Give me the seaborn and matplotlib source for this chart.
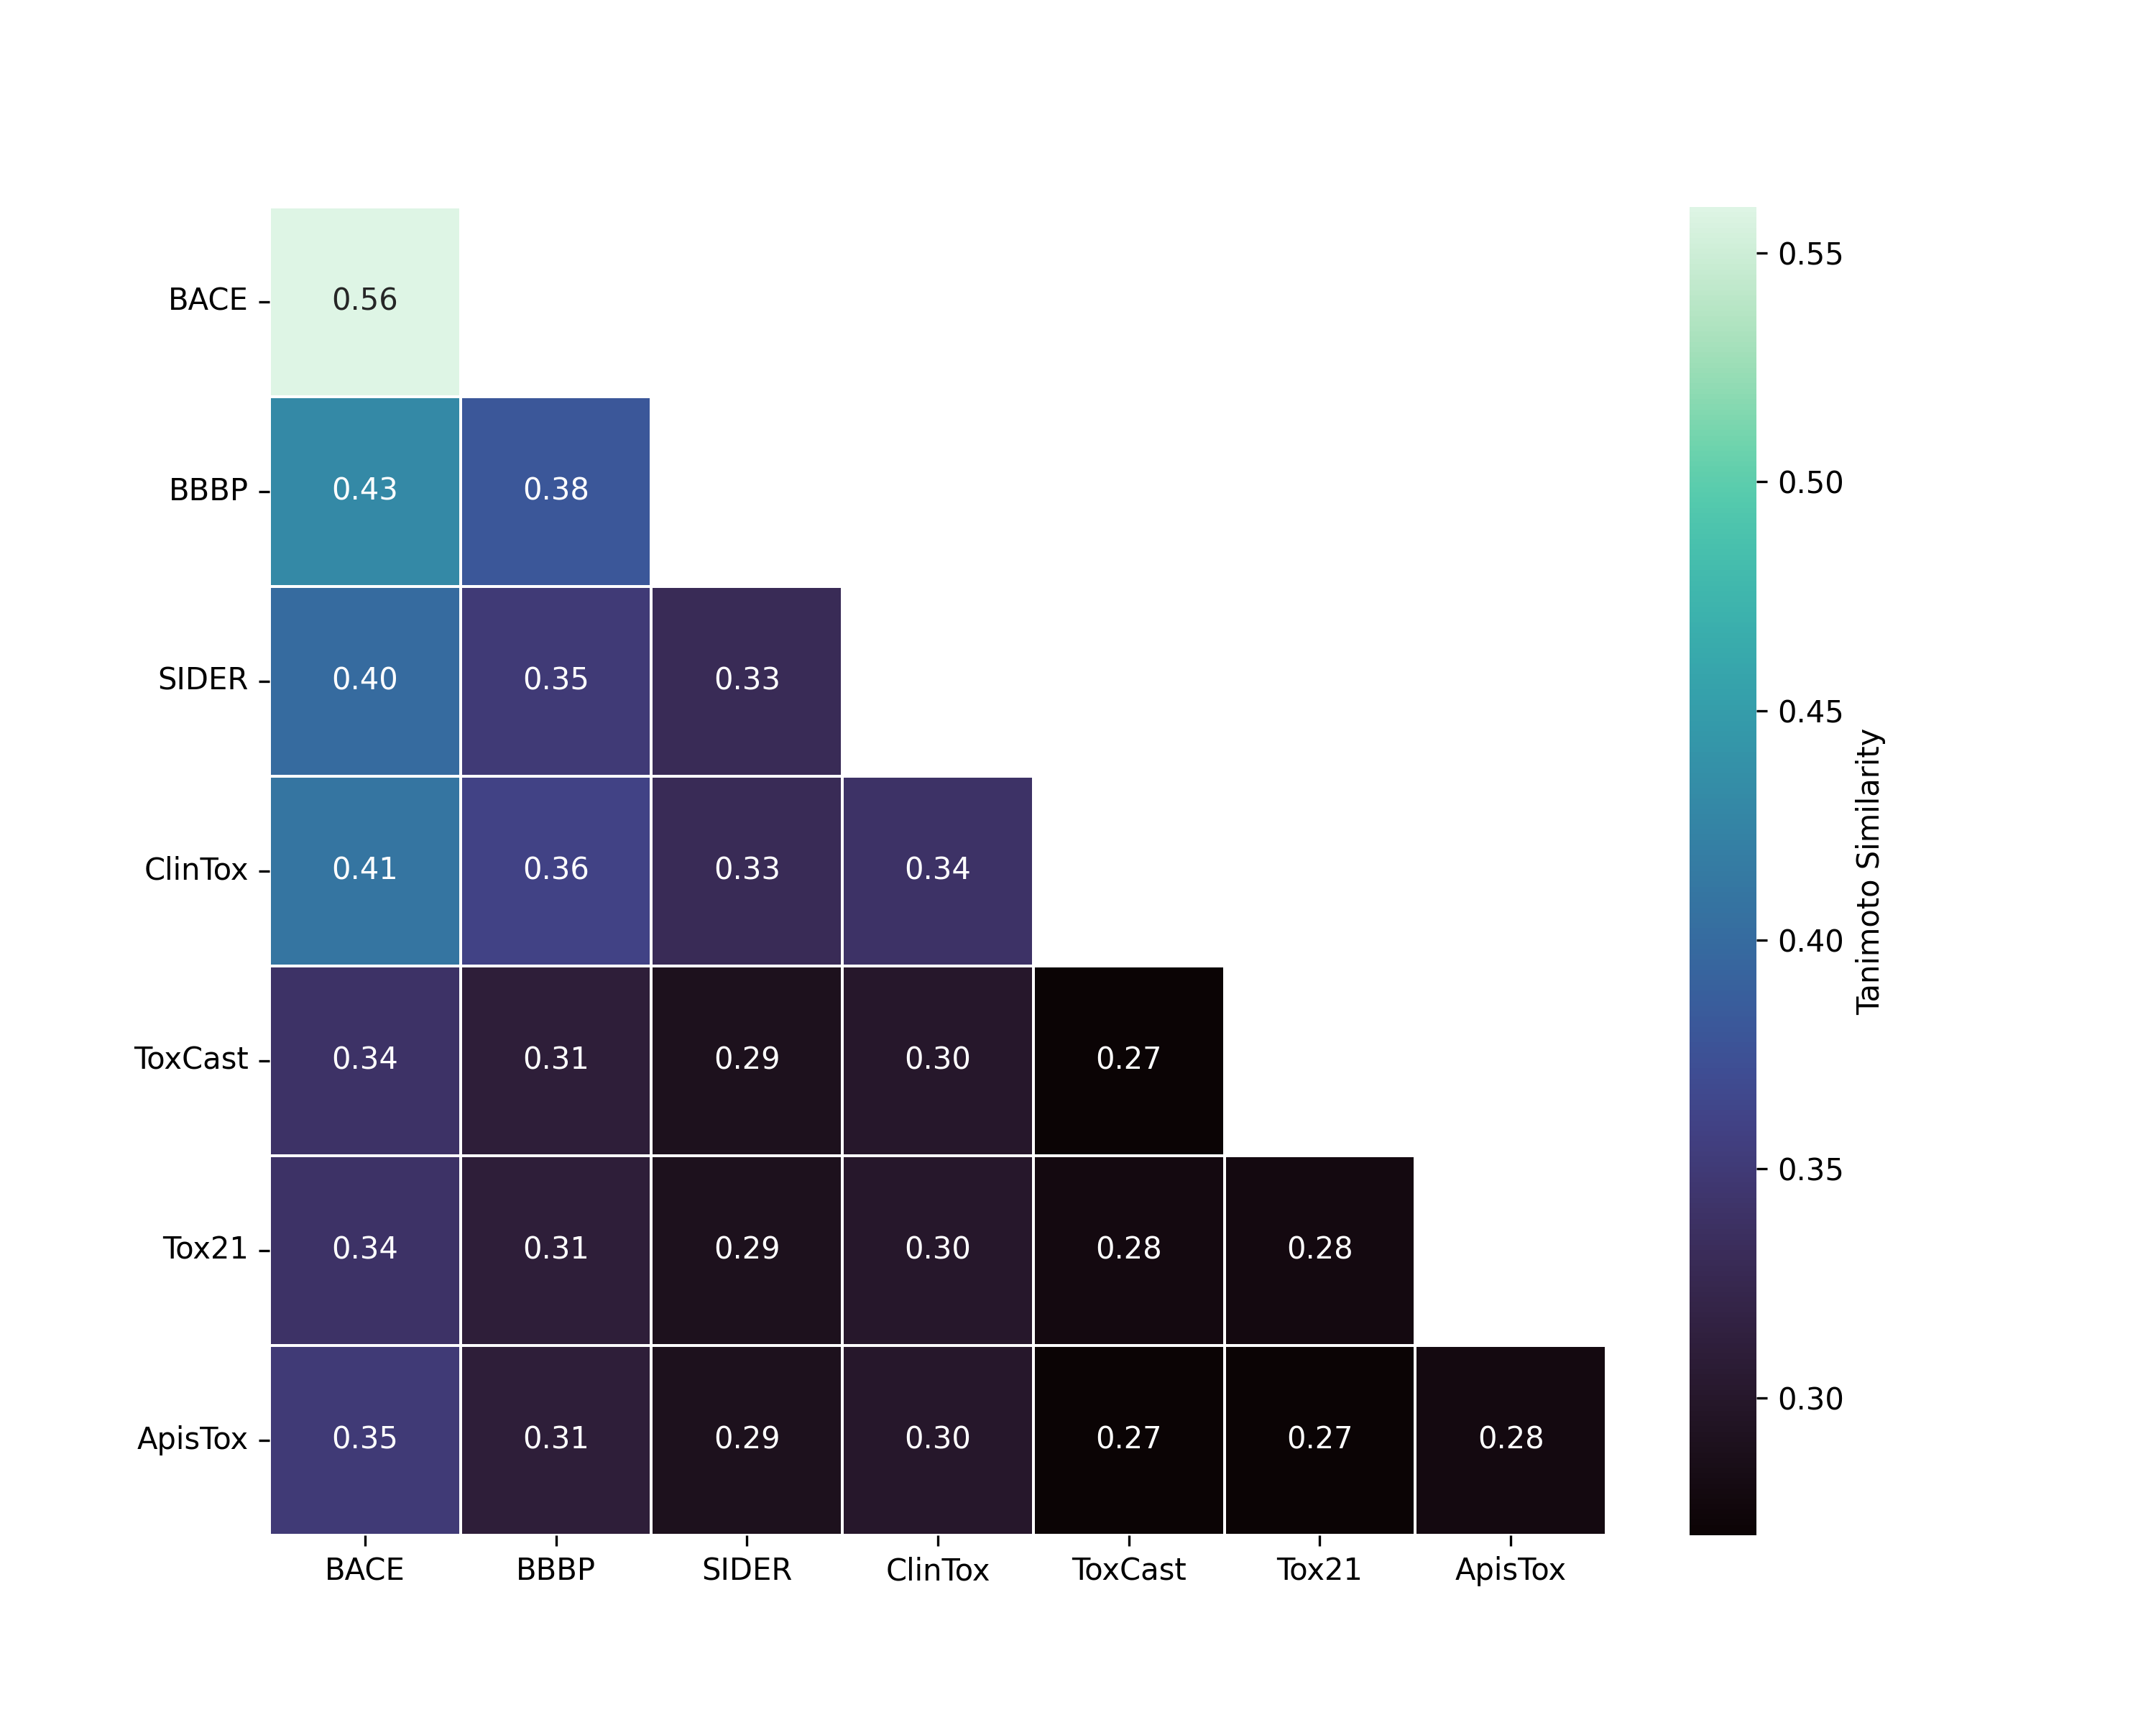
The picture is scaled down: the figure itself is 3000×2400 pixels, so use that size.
import numpy as np
import pandas as pd
import matplotlib
matplotlib.use("Agg")
import matplotlib.pyplot as plt
import seaborn as sns

# Jeux de données (lignes = colonnes)
datasets = ["BACE", "BBBP", "SIDER", "ClinTox", "ToxCast", "Tox21", "ApisTox"]

# Similarité de Tanimoto moyenne, triangle inférieur (diagonale incluse)
row_bace = [0.56]
row_bbbp = [0.43, 0.38]
row_sider = [0.40, 0.35, 0.33]
row_clintox = [0.41, 0.36, 0.33, 0.34]
row_toxcast = [0.34, 0.31, 0.29, 0.30, 0.27]
row_tox21 = [0.34, 0.31, 0.29, 0.30, 0.28, 0.28]
row_apistox = [0.35, 0.31, 0.29, 0.30, 0.27, 0.27, 0.28]

rows = [row_bace, row_bbbp, row_sider, row_clintox, row_toxcast, row_tox21, row_apistox]

# Construire la matrice symétrique
n = len(datasets)
mat = np.zeros((n, n))
for i, r in enumerate(rows):
    for j, v in enumerate(r):
        mat[i, j] = v
        mat[j, i] = v

df = pd.DataFrame(mat, index=datasets, columns=datasets)

# Masquer le triangle supérieur (on garde la diagonale)
mask = np.triu(np.ones_like(mat, dtype=bool), k=1)

fig, ax = plt.subplots(figsize=(10, 8))
sns.heatmap(
    df,
    mask=mask,
    annot=True,
    fmt=".2f",
    cmap="mako",
    linewidths=0.5,
    linecolor="white",
    cbar_kws={"label": "Tanimoto Similarity"},
    ax=ax,
)
plt.setp(ax.get_xticklabels(), rotation=0)
plt.setp(ax.get_yticklabels(), rotation=0)

plt.savefig("out.png", dpi=300)
